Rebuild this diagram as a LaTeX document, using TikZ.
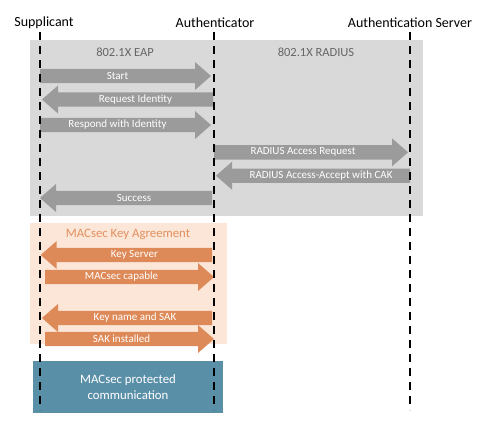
\documentclass[tikz,border=0pt]{standalone}
\usepackage{fontspec}
\setmainfont{Carlito}
\definecolor{bgray}{HTML}{D9D9D9}
\definecolor{agray}{HTML}{9B9B9B}
\definecolor{peach}{HTML}{FBE6D8}
\definecolor{aorange}{HTML}{DE8A58}
\definecolor{torange}{HTML}{E2905F}
\definecolor{bblue}{HTML}{5A8FA8}
\definecolor{tgray}{HTML}{666666}
% right arrow: #1 tail x, #2 tip x, #3 y, #4 colour, #5 name, #6 text
\newcommand\rarrowmsg[6]{%
  \fill[#4] (#1,#3-7.2) -- (#2-16,#3-7.2) -- (#2-16,#3-14) -- (#2,#3) -- (#2-16,#3+14) -- (#2-16,#3+7.2) -- (#1,#3+7.2) -- cycle;
  \node[msg] (#5) at ({(#1+#2-16)/2},#3) {#6};}
% left arrow: #1 tip x, #2 tail x
\newcommand\larrowmsg[6]{%
  \fill[#4] (#2,#3-7.2) -- (#1+16,#3-7.2) -- (#1+16,#3-14) -- (#1,#3) -- (#1+16,#3+14) -- (#1+16,#3+7.2) -- (#2,#3+7.2) -- cycle;
  \node[msg] (#5) at ({(#1+16+#2)/2},#3) {#6};}
\begin{document}
\begin{tikzpicture}[x=1pt,y=-1pt,
  msg/.style={text=white,font=\fontsize{11}{13}\selectfont,inner sep=0pt},
  head/.style={font=\fontsize{14}{16}\selectfont,inner sep=0pt},
  lifeline/.style={line width=2pt,dash pattern=on 8pt off 6pt}]
\useasboundingbox (0,0) rectangle (478,424);
% panels
\fill[bgray] (30,40) rectangle (423,216);
\fill[peach] (30,223) rectangle (227,344);
\fill[bblue] (33,361) rectangle (223,413);
% headings
\node[head] (sup) at (44,23) {Supplicant};
\node[head] (aut) at (215,23) {Authenticator};
\node[head] (srv) at (410,23) {Authentication Server};
\node[text=tgray,font=\fontsize{12.5}{14}\selectfont,inner sep=0pt] (eap) at (125,52) {802.1X EAP};
\node[text=tgray,font=\fontsize{12.5}{14}\selectfont,inner sep=0pt] (rad) at (316,52) {802.1X RADIUS};
\node[text=torange,font=\fontsize{12.8}{14}\selectfont,inner sep=0pt] (mka) at (128,234) {MACsec Key Agreement};
\node[text=white,font=\fontsize{12.8}{15.5}\selectfont,align=center,inner sep=0pt] (prot) at (128,387) {MACsec protected\\communication};
% gray messages
\rarrowmsg{40}{211}{76}{agray}{m1}{Start}
\larrowmsg{42}{213}{99.5}{agray}{m2}{Request Identity}
\rarrowmsg{40}{211}{125}{agray}{m3}{Respond with Identity}
\rarrowmsg{214}{408}{152.3}{agray}{m4}{RADIUS Access Request}
\larrowmsg{216}{410}{175.7}{agray}{m5}{RADIUS Access-Accept with CAK}
\larrowmsg{40}{212}{198}{agray}{m6}{Success}
% orange messages
\larrowmsg{40.7}{212}{255}{aorange}{k1}{Key Server}
\rarrowmsg{45}{214}{277}{aorange}{k2}{MACsec capable}
\larrowmsg{42}{212}{318}{aorange}{k3}{Key name and SAK}
\rarrowmsg{45}{214}{339}{aorange}{k4}{SAK installed}
% lifelines
\coordinate (supB) at (40,410);
\coordinate (autB) at (214,410);
\coordinate (srvB) at (409.5,410);
\draw[lifeline] (40,32) -- (supB);
\draw[lifeline] (214,32) -- (autB);
\draw[lifeline] (409.5,32) -- (srvB);
\end{tikzpicture}
\end{document}
